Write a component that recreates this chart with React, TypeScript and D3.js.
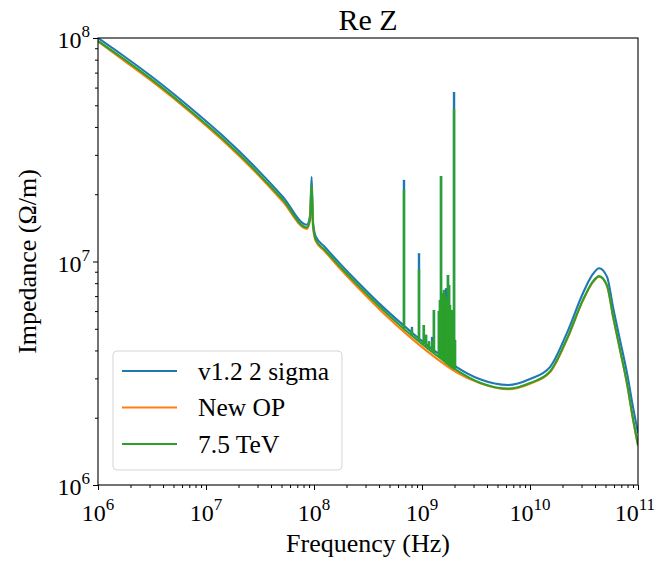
import { useEffect, useRef } from "react";
import * as d3 from "d3";

const width = 656;
const height = 561;
const plot = { left: 98, right: 638, top: 38, bottom: 485 };

const xDecades = [1e6, 1e7, 1e8, 1e9, 1e10, 1e11];
const xExps = ["6", "7", "8", "9", "10", "11"];
const yDecades = [1e6, 1e7, 1e8];
const yExps = ["6", "7", "8"];

const names = ["v1.2 2 sigma", "New OP", "7.5 TeV"];
const colors = ["#1f77b4", "#ff7f0e", "#2ca02c"];

// smooth part of Re Z, [frequency Hz, impedance Ohm/m]
const blueBase: [number, number][] = [
  [1e6, 1.0e8], [1.704e6, 8.35e7], [3.52e6, 6.44e7], [7.11e6, 4.89e7], [1.437e7, 3.64e7],
  [2.97e7, 2.59e7], [5.16e7, 1.944e7], [8.6e7, 1.46e7], [9.2e7, 1.61e7], [9.5e7, 2.39e7],
  [9.8e7, 1.5e7], [1.04e8, 1.29e7], [1.25e8, 1.167e7], [1.74e8, 9.78e6], [3.0e8, 7.46e6],
  [4.1e8, 6.43e6], [6.7e8, 5.19e6], [8.3e8, 4.75e6], [1.19e9, 4.12e6], [1.47e9, 3.82e6],
  [2.11e9, 3.36e6], [3.45e9, 2.97e6], [6.3e9, 2.8e6], [1.0e10, 2.98e6], [1.53e10, 3.37e6],
  [2.2e10, 4.79e6], [3.1e10, 7.23e6], [3.8e10, 8.75e6], [4.36e10, 9.33e6], [5.17e10, 8.53e6],
  [5.87e10, 6.25e6], [6.81e10, 4.46e6], [7.91e10, 3.17e6], [8.99e10, 2.23e6], [1e11, 1.71e6],
];

const orangeBase: [number, number][] = [
  [1e6, 9.65e7], [1.704e6, 7.98e7], [3.52e6, 6.15e7], [7.11e6, 4.67e7], [1.437e7, 3.47e7],
  [2.97e7, 2.47e7], [5.16e7, 1.85e7], [8.6e7, 1.4e7], [9.2e7, 1.54e7], [9.5e7, 2.15e7],
  [9.8e7, 1.43e7], [1.04e8, 1.23e7], [1.25e8, 1.115e7], [1.74e8, 9.3e6], [3.0e8, 7.06e6],
  [4.1e8, 6.07e6], [6.7e8, 4.88e6], [8.3e8, 4.46e6], [1.19e9, 3.87e6], [1.47e9, 3.58e6],
  [2.11e9, 3.18e6], [3.45e9, 2.85e6], [6.3e9, 2.68e6], [1.0e10, 2.84e6], [1.53e10, 3.19e6],
  [2.2e10, 4.48e6], [3.1e10, 6.7e6], [3.8e10, 8.05e6], [4.36e10, 8.55e6], [5.17e10, 7.75e6],
  [5.87e10, 5.66e6], [6.81e10, 4.02e6], [7.91e10, 2.83e6], [8.99e10, 1.96e6], [1e11, 1.5e6],
];

const greenBase: [number, number][] = [
  [1e6, 9.7e7], [1.704e6, 8.1e7], [3.52e6, 6.25e7], [7.11e6, 4.74e7], [1.437e7, 3.53e7],
  [2.97e7, 2.51e7], [5.16e7, 1.886e7], [8.6e7, 1.42e7], [9.2e7, 1.56e7], [9.5e7, 2.2e7],
  [9.8e7, 1.45e7], [1.04e8, 1.25e7], [1.25e8, 1.132e7], [1.74e8, 9.49e6], [3.0e8, 7.24e6],
  [4.1e8, 6.24e6], [6.7e8, 5.03e6], [8.3e8, 4.61e6], [1.19e9, 4.0e6], [1.47e9, 3.7e6],
  [2.11e9, 3.26e6], [3.45e9, 2.87e6], [6.3e9, 2.7e6], [1.0e10, 2.86e6], [1.53e10, 3.22e6],
  [2.2e10, 4.52e6], [3.1e10, 6.75e6], [3.8e10, 8.1e6], [4.36e10, 8.6e6], [5.17e10, 7.8e6],
  [5.87e10, 5.7e6], [6.81e10, 4.05e6], [7.91e10, 2.85e6], [8.99e10, 1.98e6], [1e11, 1.51e6],
];

// narrow resonances, [frequency, foot, peak]
const blueSpikes: [number, number, number][] = [
  [6.81e8, 5.17e6, 2.32e7], [8.07e8, 4.8e6, 5.1e6], [9.38e8, 4.55e6, 1.09e7],
  [1.04e9, 4.4e6, 5.2e6], [1.09e9, 4.3e6, 4.7e6], [1.16e9, 4.17e6, 4.4e6],
  [1.24e9, 4.07e6, 4.6e6], [1.29e9, 4.02e6, 6.07e6], [1.435e9, 3.85e6, 6.01e6],
  [1.468e9, 3.82e6, 6.73e6], [1.5e9, 3.79e6, 2.41e7], [1.53e9, 3.76e6, 7.08e6],
  [1.565e9, 3.72e6, 7.23e6], [1.6e9, 3.68e6, 7.46e6], [1.633e9, 3.65e6, 7.46e6],
  [1.67e9, 3.61e6, 7.6e6], [1.7e9, 3.58e6, 6.73e6], [1.74e9, 3.55e6, 8.7e6],
  [1.78e9, 3.52e6, 7.85e6], [1.815e9, 3.49e6, 6.39e6], [1.855e9, 3.46e6, 5.65e6],
  [1.895e9, 3.44e6, 6.07e6], [1.94e9, 3.41e6, 4.94e6], [1.98e9, 3.39e6, 5.73e7],
  [2.02e9, 3.37e6, 4.46e6],
];

const greenSpikes: [number, number, number][] = [
  [6.81e8, 5.02e6, 2.09e7], [8.07e8, 4.66e6, 5.0e6], [9.38e8, 4.41e6, 9.2e6],
  [1.04e9, 4.27e6, 5.2e6], [1.09e9, 4.17e6, 4.7e6], [1.16e9, 4.05e6, 4.37e6],
  [1.24e9, 3.95e6, 4.4e6], [1.29e9, 3.9e6, 6.07e6], [1.435e9, 3.73e6, 6.01e6],
  [1.468e9, 3.7e6, 6.73e6], [1.5e9, 3.68e6, 2.41e7], [1.53e9, 3.65e6, 7.08e6],
  [1.565e9, 3.61e6, 7.23e6], [1.6e9, 3.57e6, 7.46e6], [1.633e9, 3.54e6, 7.0e6],
  [1.67e9, 3.5e6, 6.7e6], [1.7e9, 3.47e6, 6.73e6], [1.74e9, 3.44e6, 8.7e6],
  [1.78e9, 3.41e6, 7.85e6], [1.815e9, 3.39e6, 6.39e6], [1.855e9, 3.36e6, 5.65e6],
  [1.895e9, 3.34e6, 6.07e6], [1.94e9, 3.31e6, 4.94e6], [1.98e9, 3.29e6, 4.81e7],
  [2.02e9, 3.27e6, 4.46e6],
];

const font = "'Liberation Serif', 'DejaVu Serif', 'Times New Roman', serif";

function App() {
  const svgRef = useRef<SVGSVGElement>(null);

  useEffect(() => {
    const svg = d3.select(svgRef.current);
    svg.selectAll("*").remove();

    const x = d3.scaleLog().domain([1e6, 1e11]).range([plot.left, plot.right]);
    const y = d3.scaleLog().domain([1e6, 1e8]).range([plot.bottom, plot.top]);

    svg.append("defs").append("clipPath").attr("id", "plotclip")
      .append("rect")
      .attr("x", plot.left).attr("y", plot.top)
      .attr("width", plot.right - plot.left).attr("height", plot.bottom - plot.top);

    const myLine = d3.line<[number, number]>()
      .x(d => x(d[0]))
      .y(d => y(d[1]))
      .curve(d3.curveMonotoneX);

    const g = svg.append("g").attr("clip-path", "url(#plotclip)");

    const drawSeries = (base: [number, number][], spikes: [number, number, number][], color: string) => {
      g.append("path")
        .attr("d", myLine(base))
        .attr("fill", "none")
        .attr("stroke", color)
        .attr("stroke-width", 2.1)
        .attr("stroke-linejoin", "round");
      g.selectAll(null)
        .data(spikes)
        .join("line")
        .attr("x1", d => x(d[0])).attr("x2", d => x(d[0]))
        .attr("y1", d => y(d[1])).attr("y2", d => y(d[2]))
        .attr("stroke", color)
        .attr("stroke-width", 2.4);
    };
    drawSeries(blueBase, blueSpikes, colors[0]);
    drawSeries(orangeBase, [], colors[1]);
    drawSeries(greenBase, greenSpikes, colors[2]);

    // frame
    svg.append("rect")
      .attr("x", plot.left).attr("y", plot.top)
      .attr("width", plot.right - plot.left).attr("height", plot.bottom - plot.top)
      .attr("fill", "none").attr("stroke", "#000").attr("stroke-width", 1.1);

    const minor = (decades: number[]) =>
      decades.slice(0, -1).flatMap(d => [2, 3, 4, 5, 6, 7, 8, 9].map(k => d * k));

    const xAxisMinor = d3.axisBottom(x).tickValues(minor(xDecades)).tickSize(3).tickFormat(() => "");
    const xAxisMajor = d3.axisBottom(x).tickValues(xDecades).tickSize(5).tickFormat(() => "");
    const yAxisMinor = d3.axisLeft(y).tickValues(minor(yDecades)).tickSize(3).tickFormat(() => "");
    const yAxisMajor = d3.axisLeft(y).tickValues(yDecades).tickSize(5).tickFormat(() => "");

    [xAxisMinor, xAxisMajor].forEach(ax => {
      svg.append("g").attr("transform", `translate(0,${plot.bottom})`).call(ax)
        .call(s => s.select(".domain").remove());
    });
    [yAxisMinor, yAxisMajor].forEach(ax => {
      svg.append("g").attr("transform", `translate(${plot.left},0)`).call(ax)
        .call(s => s.select(".domain").remove());
    });
    svg.selectAll(".tick line").attr("stroke", "#000").attr("stroke-width", 1);

    // tick labels 10^n
    const tl = svg.append("g").style("font-family", font).attr("fill", "#000");
    xDecades.forEach((d, i) => {
      const last = i === xDecades.length - 1;
      const t = tl.append("text")
        .attr("x", last ? 655 : x(d)).attr("y", plot.bottom + 36)
        .attr("text-anchor", last ? "end" : "middle").style("font-size", "24px");
      t.append("tspan").text("10");
      t.append("tspan").style("font-size", "17px").attr("dy", -11).text(xExps[i]);
    });
    yDecades.forEach((d, i) => {
      const t = tl.append("text")
        .attr("x", plot.left - 8).attr("y", y(d) + 10)
        .attr("text-anchor", "end").style("font-size", "24px");
      t.append("tspan").text("10");
      t.append("tspan").style("font-size", "17px").attr("dy", -11).text(yExps[i]);
    });

    // titles
    svg.append("text")
      .attr("x", (plot.left + plot.right) / 2).attr("y", 30)
      .attr("text-anchor", "middle").style("font-family", font).style("font-size", "30px")
      .text("Re Z");
    svg.append("text")
      .attr("x", (plot.left + plot.right) / 2).attr("y", 552)
      .attr("text-anchor", "middle").style("font-family", font).style("font-size", "26px")
      .text("Frequency (Hz)");
    svg.append("text")
      .attr("transform", `translate(36,${(plot.top + plot.bottom) / 2}) rotate(-90)`)
      .attr("text-anchor", "middle").style("font-family", font).style("font-size", "26px")
      .text("Impedance (Ω/m)");

    // legend
    const lg = svg.append("g");
    lg.append("rect")
      .attr("x", 113).attr("y", 351).attr("width", 229).attr("height", 119)
      .attr("rx", 4).attr("fill", "#fff").attr("fill-opacity", 0.8)
      .attr("stroke", "#d5d5d5").attr("stroke-width", 1);
    names.forEach((n, i) => {
      const cy = 371 + i * 36.5;
      lg.append("line")
        .attr("x1", 122).attr("x2", 177).attr("y1", cy).attr("y2", cy)
        .attr("stroke", colors[i]).attr("stroke-width", 2.1);
      lg.append("text")
        .attr("x", 198).attr("y", cy + 8.5)
        .style("font-family", font).style("font-size", "25.5px")
        .text(n);
    });
  }, []);

  return (
    <svg
      ref={svgRef}
      width={width}
      height={height}
      style={{ position: "absolute", left: 0, top: 0, background: "#fff" }}
    />
  );
}

export default App;
